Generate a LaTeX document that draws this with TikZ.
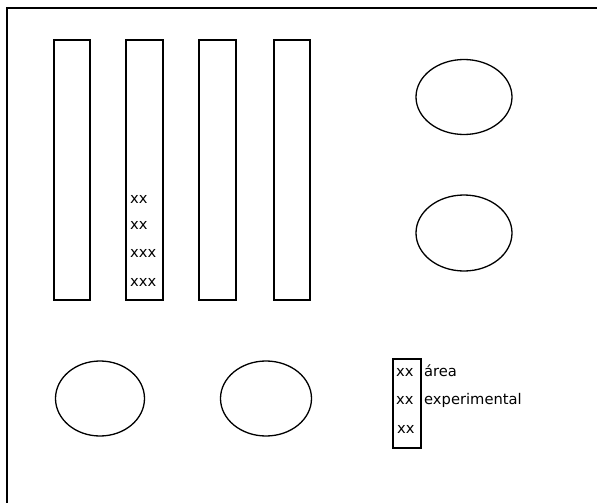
\documentclass[tikz,border=0pt]{standalone}
\usepackage{fontspec}
\setmainfont{DejaVu Sans}
\usetikzlibrary{shapes.geometric}
\begin{document}
\begin{tikzpicture}[x=1pt,y=-1pt,
  plot/.style={draw,rectangle,line width=1.3pt,inner sep=0pt},
  pond/.style={draw,ellipse,line width=1.3pt,inner sep=0pt},
  lbl/.style={inner sep=0pt,anchor=base west,font=\fontsize{14.7}{17}\selectfont}]
\useasboundingbox (0,0) rectangle (597,503);
% outer field boundary (top and left edges)
\coordinate (tl) at (7,8);
\coordinate (tr) at (597,8);
\coordinate (bl) at (7,503);
\draw[line width=2pt] (tr) -- (tl) -- (bl);
% long plots
\node[plot,minimum width=36,minimum height=260] (p1) at (72,170) {};
\node[plot,minimum width=37,minimum height=260] (p2) at (144.5,170) {};
\node[plot,minimum width=37,minimum height=260] (p3) at (217.5,170) {};
\node[plot,minimum width=36,minimum height=260] (p4) at (292,170) {};
% markers inside plot 2
\node[lbl] (m1) at (130,203) {xx};
\node[lbl] (m2) at (130,229) {xx};
\node[lbl] (m3) at (130,257) {xxx};
\node[lbl] (m4) at (130,286) {xxx};
% ponds
\node[pond,minimum width=96,minimum height=75] (e1) at (464,97) {};
\node[pond,minimum width=96,minimum height=76] (e2) at (464,233) {};
\node[pond,minimum width=89,minimum height=75] (e3) at (100,398.5) {};
\node[pond,minimum width=91,minimum height=75] (e4) at (266,398.5) {};
% legend
\node[plot,minimum width=28,minimum height=89] (leg) at (407,403.5) {};
\node[lbl] (l1) at (396,376) {xx};
\node[lbl] (l2) at (396,404) {xx};
\node[lbl] (l3) at (397,433) {xx};
\node[lbl] (t1) at (424,376) {área};
\node[lbl] (t2) at (424,404) {experimental};
\end{tikzpicture}
\end{document}
